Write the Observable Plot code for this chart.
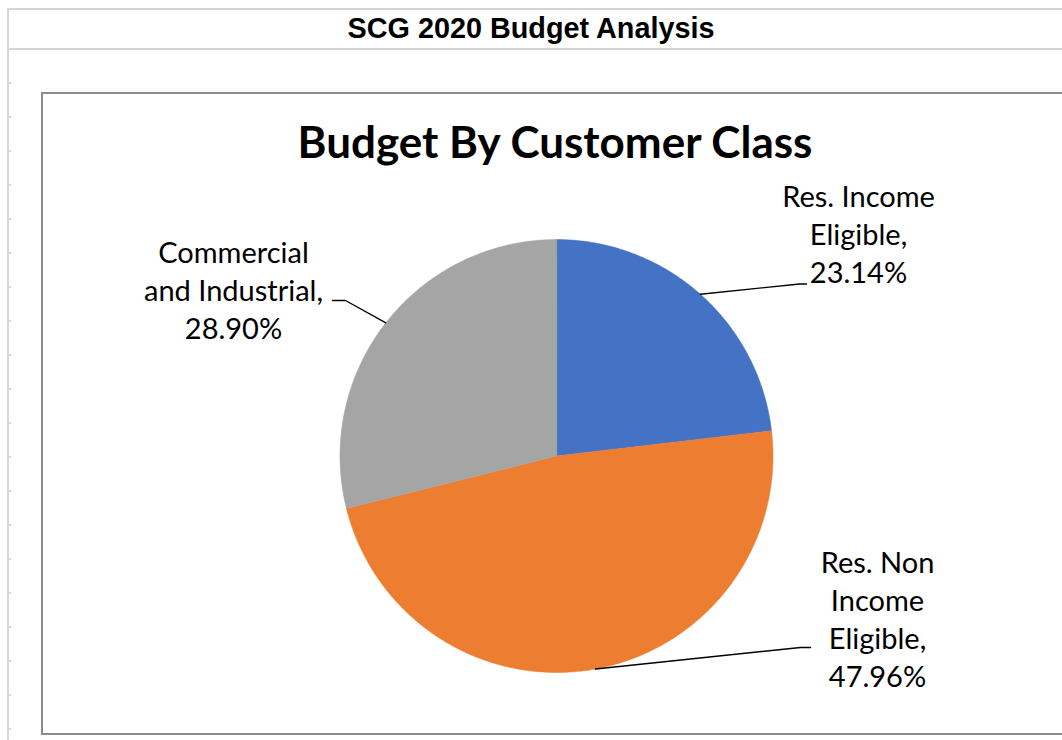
<!DOCTYPE html>
<html>
<head>
<meta charset="utf-8">
<script src="https://cdn.jsdelivr.net/npm/d3@7"></script>
<script src="https://cdn.jsdelivr.net/npm/@observablehq/plot@0.6"></script>
<style>
  html, body { margin: 0; padding: 0; background: #fff; width: 1062px; height: 740px; overflow: hidden; position: relative; }
  .g { position: absolute; background: #d6d6d6; }
  #ticks { position: absolute; left: 9px; top: 50px; width: 2px; height: 690px;
    background: repeating-linear-gradient(to bottom, transparent 0px, transparent 32px, #d6d6d6 32px, #d6d6d6 34px); }
  #sheetTitle { position: absolute; left: 0; top: 13.5px; width: 1062px; text-align: center;
    font-family: "Liberation Sans", Arial, sans-serif; font-weight: bold; font-size: 28.8px; line-height: 28.8px; color: #000; white-space: nowrap; }
  #box { position: absolute; left: 41px; top: 92px; width: 1040px; height: 639px; border: 2px solid #8c8c8c; border-right: none; background: #fff; }
  #chartTitle { position: absolute; left: 55px; top: 119px; width: 1000px; text-align: center;
    font-family: Lato, "Noto Sans", sans-serif; font-weight: bold; font-size: 44px; line-height: 44px; color: #000; white-space: nowrap; }
  #plot { position: absolute; left: 43px; top: 94px; }
</style>
</head>
<body>
<div class="g" style="left:7px;top:8px;width:1055px;height:2px"></div>
<div class="g" style="left:7px;top:48px;width:1055px;height:2px"></div>
<div class="g" style="left:7px;top:8px;width:2px;height:732px"></div>
<div id="ticks"></div>
<div id="sheetTitle">SCG 2020 Budget Analysis</div>
<div id="box"></div>
<div id="chartTitle">Budget By Customer Class</div>
<div id="plot"></div>
<script>
// ---- data ----
const categories = ["Res. Income Eligible", "Res. Non Income Eligible", "Commercial and Industrial"];
const shares = [23.14, 47.96, 28.90];
const sliceColors = ["#4472C4", "#ED7D31", "#A5A5A5"];
const labelLines = [["Res. Income", "Eligible,"], ["Res. Non", "Income", "Eligible,"], ["Commercial", "and Industrial,"]];

// ---- layout (page pixels) ----
const box = {left: 43, top: 94, width: 1019, height: 639};
const pie = {cx: 556, cy: 455.5, r: 216.5};
const labelLayout = [
  {x: 858, baseline: 206, elbow: [[799, 283.5], [806, 283.5]]},
  {x: 877, baseline: 572, elbow: [[800, 647], [810, 647]]},
  {x: 233, baseline: 262, elbow: [[345, 300], [332, 300]]}
];
const FS = 29, LH = 1.32;

const toU = ([px, py]) => ({x: (px - pie.cx) / pie.r, y: (pie.cy - py) / pie.r});

const data = categories.map((c, i) => ({category: c, value: shares[i]}));
const arcs = d3.pie().sort(null).value(d => d.value)(data);

const slicePts = [];
const leaderPts = [];
const labels = [];
arcs.forEach((a, i) => {
  const cat = a.data.category;
  slicePts.push({category: cat, x: 0, y: 0});
  const n = Math.max(2, Math.ceil((a.endAngle - a.startAngle) / (Math.PI / 360)));
  for (let k = 0; k <= n; k++) {
    const t = a.startAngle + (a.endAngle - a.startAngle) * k / n;
    slicePts.push({category: cat, x: Math.sin(t), y: Math.cos(t)});
  }
  const mid = (a.startAngle + a.endAngle) / 2;
  const L = labelLayout[i];
  leaderPts.push({category: cat, x: Math.sin(mid), y: Math.cos(mid)});
  L.elbow.forEach(p => leaderPts.push({category: cat, ...toU(p)}));
  const lines = [...labelLines[i], a.data.value.toFixed(2) + "%"];
  const lastBaseline = L.baseline + (lines.length - 1) * LH * FS;
  labels.push({category: cat, text: lines.join("\n"), ...toU([L.x, lastBaseline])});
});

const chart = Plot.plot({
  width: box.width,
  height: box.height,
  margin: 0,
  x: {axis: null, domain: [(box.left - pie.cx) / pie.r, (box.left + box.width - pie.cx) / pie.r]},
  y: {axis: null, domain: [(pie.cy - box.top - box.height) / pie.r, (pie.cy - box.top) / pie.r]},
  color: {domain: categories, range: sliceColors},
  style: {background: "transparent", overflow: "visible"},
  marks: [
    Plot.line(slicePts, {x: "x", y: "y", z: "category", fill: "category", stroke: "category", strokeWidth: 0.5, curve: "linear-closed"}),
    Plot.line(leaderPts, {x: "x", y: "y", z: "category", stroke: "#000", strokeWidth: 1.4}),
    Plot.text(labels, {x: "x", y: "y", text: "text", lineAnchor: "bottom", lineHeight: LH, fontSize: FS,
      fontFamily: "Lato, 'Noto Sans', sans-serif", fill: "#000", textAnchor: "middle"})
  ]
});
document.getElementById("plot").appendChild(chart);
</script>
</body>
</html>
